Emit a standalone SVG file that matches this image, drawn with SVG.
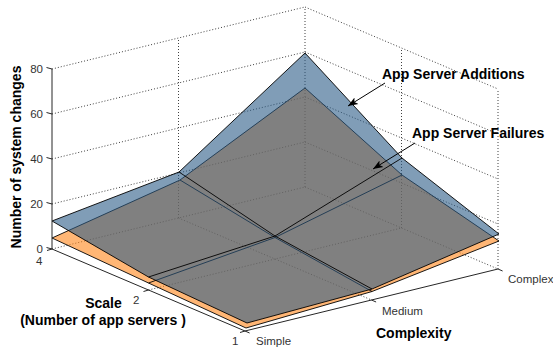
<svg xmlns="http://www.w3.org/2000/svg" width="553" height="352" viewBox="0 0 553 352">
  <style>
    .grid { fill: none; stroke: #404040; stroke-width: 1; stroke-dasharray: 1 2; }
    .axis { fill: none; stroke: #262626; stroke-width: 1; }
    .tick { font-family: "Liberation Sans", Arial, sans-serif; font-size: 11.5px; fill: #333; }
    .label { font-family: "Liberation Sans", Arial, sans-serif; font-size: 14px; font-weight: bold; fill: #000; }
    .mesh { fill: none; stroke: #000; stroke-width: 0.9; stroke-linejoin: round; }
    .fail-face { fill: #FF8519; fill-opacity: 0.6; stroke: none; }
    .add-face { fill: #2B5C87; fill-opacity: 0.6; stroke: none; }
    .callout { fill: none; stroke: #000; stroke-width: 1; }
  </style>
  <defs>
    <marker id="head" viewBox="0 0 10 10" refX="10" refY="5" markerWidth="10" markerHeight="10" markerUnits="userSpaceOnUse" orient="auto">
      <path d="M0,1.2 L10,5 L0,8.8 L2.5,5 Z" fill="#000"/>
    </marker>
  </defs>
  <rect width="553" height="352" fill="#fff"/>

  <!-- grid on the back walls and the floor -->
  <g id="grid">
    <!-- left wall (scale = 4) -->
    <path class="grid" d="M52,249 L305,187 M52,204 L305,142 M52,159 L305,97 M52,114 L305,52 M52,69 L305,7"/>
    <path class="grid" d="M178.5,218 L178.5,38 M305,187 L305,7"/>
    <!-- right wall (Complex) -->
    <path class="grid" d="M305,187 L498,269 M305,142 L498,224 M305,97 L498,179 M305,52 L498,134 M305,7 L498,89"/>
    <path class="grid" d="M401.5,228 L401.5,48 M498,269 L498,89"/>
    <!-- floor -->
    <path class="grid" d="M148.5,290 L401.5,228 M178.5,218 L371.5,300"/>
  </g>

  <!-- App Server Failures surface -->
  <g id="surface-failures">
    <path class="fail-face" d="M52,238 L180,180 L305,88 L402,175 L499,241 L372,291.5 L246,328 L148.5,283 Z"/>
    <path class="mesh" d="M52,238 L180,180 L305,88 M148.5,283 L275,237.5 L402,175 M246,328 L372,291.5 L499,241 M52,238 L148.5,283 L246,328 M180,180 L275,237.5 L372,291.5 M305,88 L402,175 L499,241"/>
  </g>

  <!-- App Server Additions surface -->
  <g id="surface-additions">
    <path class="add-face" d="M52,221 L179,172 L305,53 L402,158 L499,234 L372,289 L247,323 L148.5,277 Z"/>
    <path class="mesh" d="M52,221 L179,172 L305,53 M148.5,277 L275,236 L402,158 M247,323 L372,289 L499,234 M52,221 L148.5,277 L247,323 M179,172 L275,236 L372,289 M305,53 L402,158 L499,234"/>
  </g>

  <!-- axes and ticks -->
  <g id="axes">
    <path class="axis" d="M52,69 L52,249 L245,331 L498,269"/>
    <path class="axis" d="M52,69 L46.5,67.5 M52,114 L46.5,112.5 M52,159 L46.5,157.5 M52,204 L46.5,202.5 M52,249 L46.5,247.5"/>
    <path class="axis" d="M52,249 L47,250.5 M148.5,290 L143.5,291.5 M245,331 L240,332.5"/>
    <path class="axis" d="M245,331 L249.6,333 M371.5,300 L376.1,302 M498,269 L502.6,271"/>
  </g>

  <g id="tick-labels">
    <text class="tick" x="43" y="73" text-anchor="end">80</text>
    <text class="tick" x="43" y="118" text-anchor="end">60</text>
    <text class="tick" x="43" y="163" text-anchor="end">40</text>
    <text class="tick" x="43" y="208" text-anchor="end">20</text>
    <text class="tick" x="43" y="253" text-anchor="end">0</text>
    <text class="tick" x="42.5" y="265" text-anchor="end">4</text>
    <text class="tick" x="133" y="304">2</text>
    <text class="tick" x="232" y="345">1</text>
    <text class="tick" x="256" y="345">Simple</text>
    <text class="tick" x="382" y="315">Medium</text>
    <text class="tick" x="508" y="283">Complex</text>
  </g>

  <g id="axis-titles">
    <text class="label" transform="translate(21,157) rotate(-90)" text-anchor="middle">Number of system changes</text>
    <text class="label" x="103.5" y="308" text-anchor="middle">Scale</text>
    <text class="label" x="103" y="325" text-anchor="middle">(Number of app servers )</text>
    <text class="label" x="376" y="338">Complexity</text>
  </g>

  <!-- callouts -->
  <g id="connectors">
    <path class="callout" d="M385,83 L348,106" marker-end="url(#head)"/>
    <path class="callout" d="M415,143 L373,169" marker-end="url(#head)"/>
  </g>
  <g id="label-additions">
    <text class="label" x="382" y="79">App Server Additions</text>
  </g>
  <g id="label-failures">
    <text class="label" x="412" y="138">App Server Failures</text>
  </g>
</svg>
